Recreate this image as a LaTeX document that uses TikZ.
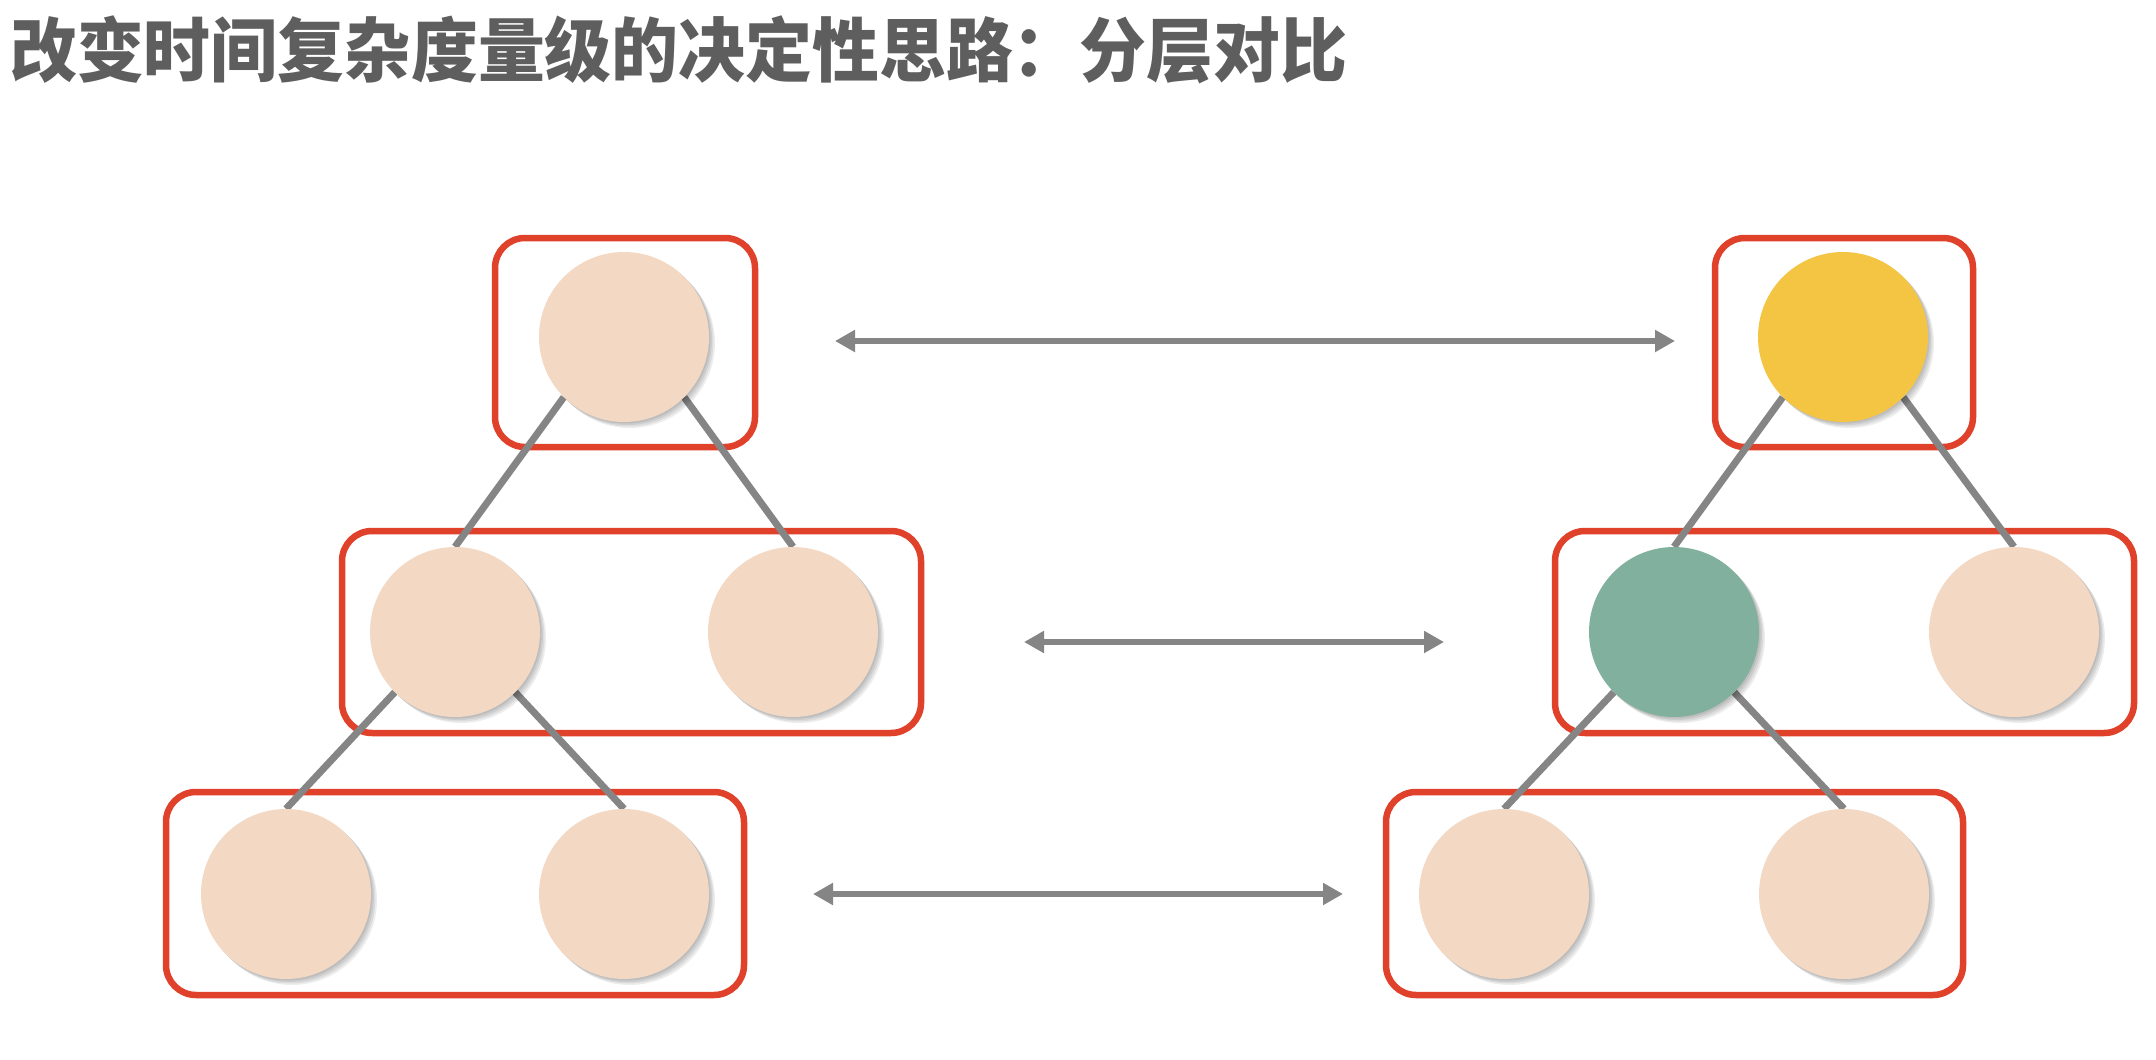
\documentclass[tikz,border=0pt]{standalone}
\usepackage{fontspec}
\newfontfamily\cjk{Noto Sans CJK SC}
\usetikzlibrary{arrows.meta}
\definecolor{peach}{HTML}{F3D8C4}
\definecolor{gold}{HTML}{F4C443}
\definecolor{sage}{HTML}{82B09E}
\definecolor{boxred}{HTML}{E0412B}
\definecolor{linegray}{HTML}{858585}
\definecolor{titlegray}{HTML}{5E5E5E}
\pgfdeclarelayer{paper}
\pgfdeclarelayer{frames}
\pgfdeclarelayer{links}
\pgfsetlayers{paper,frames,links,main}
\tikzset{
  softshade/.style={preaction={fill=black, fill opacity=0.07,
      transform canvas={shift={(#1,-#1)}}}},
  ball/.style={circle, minimum size=170pt, inner sep=0pt, fill=peach,
    softshade=1.5pt, softshade=3pt, softshade=4.5pt, softshade=6pt},
  level/.style={draw=boxred, line width=6.5pt, rounded corners=30pt},
  edge/.style={draw=linegray, line width=7pt},
  compare/.style={draw=linegray, line width=6.5pt, {Triangle[length=20pt,width=21pt]}-{Triangle[length=20pt,width=21pt]}}
}
\begin{document}
\begin{tikzpicture}[x=1pt,y=-1pt]
\begin{pgfonlayer}{paper}
  \fill[white] (0,0) rectangle (2156,1060);
\end{pgfonlayer}
\useasboundingbox (0,0) rectangle (2156,1060);

% heading
\node[anchor=west, inner sep=0pt, text=titlegray, xscale=0.955,
      font=\cjk\bfseries\fontsize{70}{80}\selectfont]
  (title) at (10,50) {改变时间复杂度量级的决定性思路：分层对比};

% balls: left tree
\node[ball] (L0) at (624,337) {};
\node[ball] (L1) at (455,632) {};
\node[ball] (L2) at (793,632) {};
\node[ball] (L3) at (286,894) {};
\node[ball] (L4) at (624,894) {};
% balls: right tree
\node[ball, fill=gold] (R0) at (1843,337) {};
\node[ball, fill=sage] (R1) at (1674,632) {};
\node[ball] (R2) at (2014,632) {};
\node[ball] (R3) at (1504,894) {};
\node[ball] (R4) at (1844,894) {};

% tree edges, under the balls
\begin{pgfonlayer}{links}
  \draw[edge] (L0.south west) -- (L1.north);
  \draw[edge] (L0.south east) -- (L2.north);
  \draw[edge] (L1.south west) -- (L3.north);
  \draw[edge] (L1.south east) -- (L4.north);
  \draw[edge] (R0.south west) -- (R1.north);
  \draw[edge] (R0.south east) -- (R2.north);
  \draw[edge] (R1.south west) -- (R3.north);
  \draw[edge] (R1.south east) -- (R4.north);
\end{pgfonlayer}

% per-level frames
\begin{pgfonlayer}{frames}
  \draw[level] (495,238) rectangle (755,447);
  \draw[level] (342,531) rectangle (921,733);
  \draw[level] (166,792) rectangle (744,995);
  \draw[level] (1715,238) rectangle (1973,447);
  \draw[level] (1555,531) rectangle (2134,733);
  \draw[level] (1386,792) rectangle (1963,995);
\end{pgfonlayer}

% level-to-level comparison arrows
\coordinate (a0) at (835,341);
\coordinate (b0) at (1675,341);
\coordinate (a1) at (1024,642);
\coordinate (b1) at (1444,642);
\coordinate (a2) at (813,894);
\coordinate (b2) at (1343,894);
\draw[compare] (a0) -- (b0);
\draw[compare] (a1) -- (b1);
\draw[compare] (a2) -- (b2);
\end{tikzpicture}
\end{document}
